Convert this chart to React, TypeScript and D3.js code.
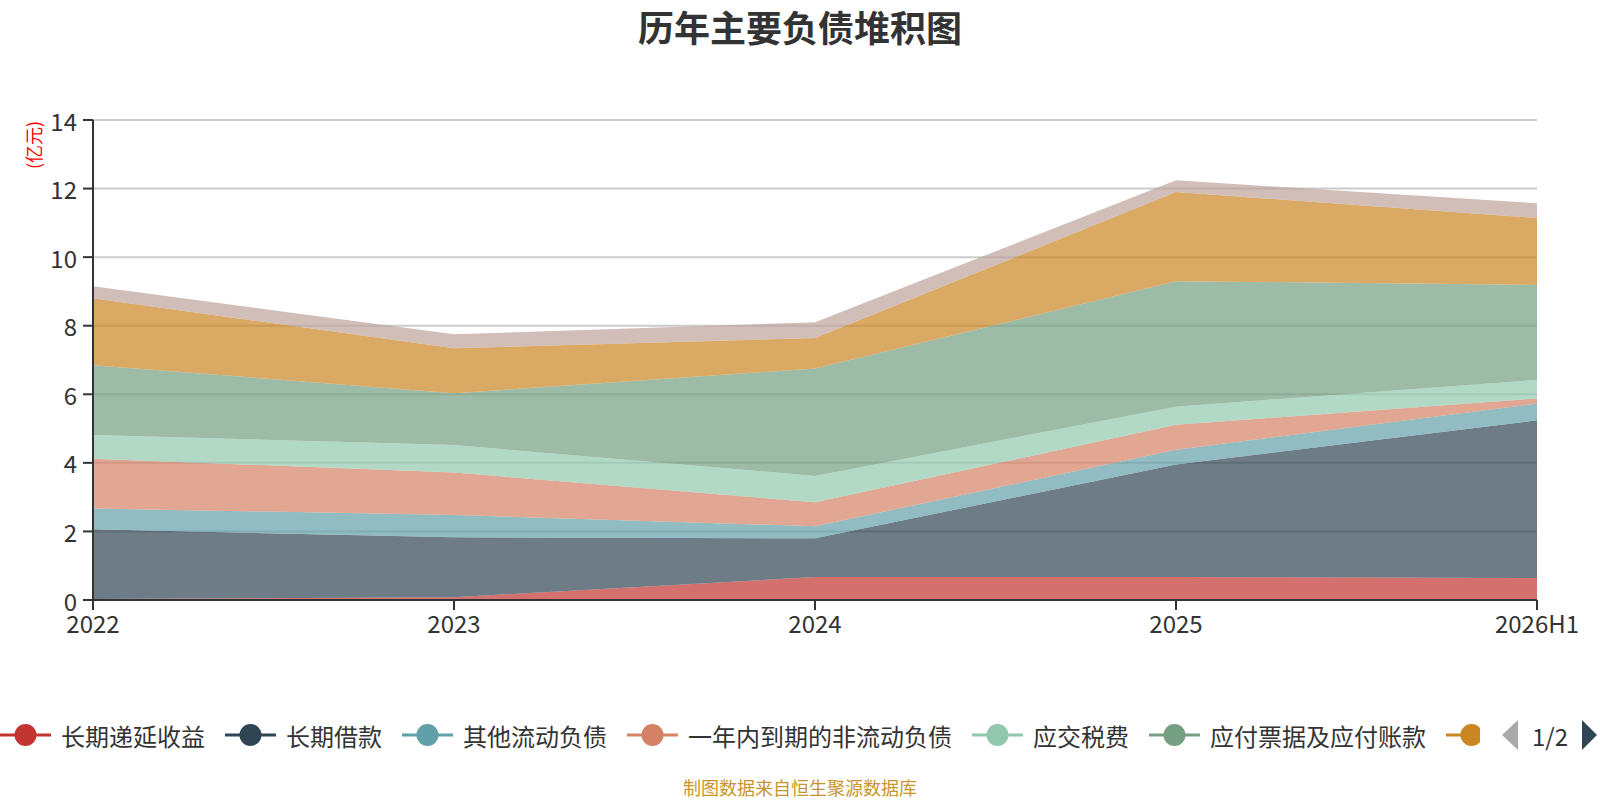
import * as d3 from "d3";

// 历年主要负债堆积图 — stacked area, unit: 亿元
const years = ["2022", "2023", "2024", "2025", "2026H1"];

const seriesNames = [
  "长期递延收益",
  "长期借款",
  "其他流动负债",
  "一年内到期的非流动负债",
  "应交税费",
  "应付票据及应付账款",
  "短期借款",
  "其他应付款",
];

const deferredIncome = [0.03, 0.08, 0.67, 0.67, 0.64];
const longTermLoans = [2.03, 1.75, 1.13, 3.28, 4.6];
const otherCurrent = [0.61, 0.65, 0.35, 0.43, 0.49];
const currentPortion = [1.45, 1.24, 0.7, 0.73, 0.15];
const taxesPayable = [0.69, 0.8, 0.77, 0.53, 0.54];
const notesPayable = [2.04, 1.51, 3.13, 3.66, 2.77];
const shortTermLoans = [1.95, 1.31, 0.89, 2.6, 1.95];
const otherPayables = [0.35, 0.41, 0.46, 0.34, 0.43];

const yTicks = [0, 2, 4, 6, 8, 10, 12, 14];

const colors = ["#c23531", "#2f4554", "#61a0a8", "#d48265", "#91c7ae", "#749f83", "#ca8622", "#bda29a"];

const W = 1600;
const H = 800;
const margin = { top: 120, right: 63, bottom: 200, left: 93 };
const FONT = "'Noto Sans CJK SC', 'Noto Sans', sans-serif";

export default function App() {
  const allSeries = [
    deferredIncome,
    longTermLoans,
    otherCurrent,
    currentPortion,
    taxesPayable,
    notesPayable,
    shortTermLoans,
    otherPayables,
  ];

  const rows = years.map((year, i) => {
    const row: Record<string, number | string> = { year };
    seriesNames.forEach((name, s) => (row[name] = allSeries[s][i]));
    return row;
  });

  const stacked = d3.stack<any>().keys(seriesNames)(rows);

  const x = d3
    .scalePoint<string>()
    .domain(years)
    .range([margin.left, W - margin.right]);

  const y = d3
    .scaleLinear()
    .domain([0, 14])
    .range([H - margin.bottom, margin.top]);

  const area = d3
    .area<any>()
    .x((d) => x(d.data.year) as number)
    .y0((d) => y(d[0]))
    .y1((d) => y(d[1]));

  // legend layout: line+circle icon, then text, measured by character count.
  // page 1 is clipped at legendRight; whatever starts past it lives on page 2
  const fs = 24;
  const legendRight = 1480;
  let cursor = 0;
  const legendItems = seriesNames
    .map((name, i) => {
      const item = { name, color: colors[i], x: cursor };
      cursor += 61 + name.length * fs + 20;
      return item;
    })
    .filter((it) => it.x < legendRight);
  const legendY = 735;

  return (
    <svg
      width={W}
      height={H}
      style={{ position: "absolute", left: 0, top: 0, background: "#fff" }}
      fontFamily={FONT}
    >
      <text x={W / 2} y={26} textAnchor="middle" dominantBaseline="central" fontSize={36} fontWeight="bold" fill="#333">
        历年主要负债堆积图
      </text>

      {/* grid */}
      {yTicks.slice(1).map((t) => (
        <line key={t} x1={margin.left} x2={W - margin.right} y1={y(t)} y2={y(t)} stroke="#ccc" strokeWidth={2} />
      ))}

      {/* stacked areas */}
      {stacked.map((layer, i) => (
        <path key={layer.key} d={area(layer) as string} fill={colors[i]} fillOpacity={0.7} />
      ))}

      {/* y axis */}
      <line x1={margin.left} x2={margin.left} y1={y(14)} y2={y(0)} stroke="#333" strokeWidth={2} />
      {yTicks.map((t) => (
        <g key={t}>
          <line x1={margin.left - 10} x2={margin.left} y1={y(t)} y2={y(t)} stroke="#333" strokeWidth={2} />
          <text x={margin.left - 16} y={y(t)} textAnchor="end" dominantBaseline="central" fontSize={24} fill="#333">
            {t}
          </text>
        </g>
      ))}
      <text
        transform={`translate(33,145) rotate(-90)`}
        textAnchor="middle"
        dominantBaseline="central"
        fontSize={18}
        fill="#ff0000"
      >
        (亿元)
      </text>

      {/* x axis */}
      <line x1={margin.left} x2={W - margin.right} y1={y(0)} y2={y(0)} stroke="#333" strokeWidth={2} />
      {years.map((yr) => (
        <g key={yr}>
          <line x1={x(yr)} x2={x(yr)} y1={y(0)} y2={y(0) + 10} stroke="#333" strokeWidth={2} />
          <text x={x(yr)} y={y(0) + 33} textAnchor="middle" fontSize={24} fill="#333">
            {yr}
          </text>
        </g>
      ))}

      {/* legend (page 1 of 2) */}
      <defs>
        <clipPath id="legendClip">
          <rect x={0} y={legendY - 30} width={legendRight} height={60} />
        </clipPath>
      </defs>
      <g clipPath="url(#legendClip)">
        {legendItems.map((it) => (
          <g key={it.name} transform={`translate(${it.x},${legendY})`}>
            <line x1={0} x2={51} y1={0} y2={0} stroke={it.color} strokeWidth={3} />
            <circle cx={25.5} cy={0} r={11} fill={it.color} />
            {it.x + 61 < legendRight && (
              <text x={61} y={0} dominantBaseline="central" fontSize={fs} fill="#333">
                {it.name}
              </text>
            )}
          </g>
        ))}
      </g>
      <path d={`M1518,${legendY - 15} L1502,${legendY} L1518,${legendY + 15} Z`} fill="#aaa" />
      <text x={1550} y={legendY} textAnchor="middle" dominantBaseline="central" fontSize={24} fill="#333">
        1/2
      </text>
      <path d={`M1582,${legendY - 15} L1597,${legendY} L1582,${legendY + 15} Z`} fill="#2f4554" />

      <text x={W / 2} y={787} textAnchor="middle" dominantBaseline="central" fontSize={18} fill="#c9952b">
        制图数据来自恒生聚源数据库
      </text>
    </svg>
  );
}
